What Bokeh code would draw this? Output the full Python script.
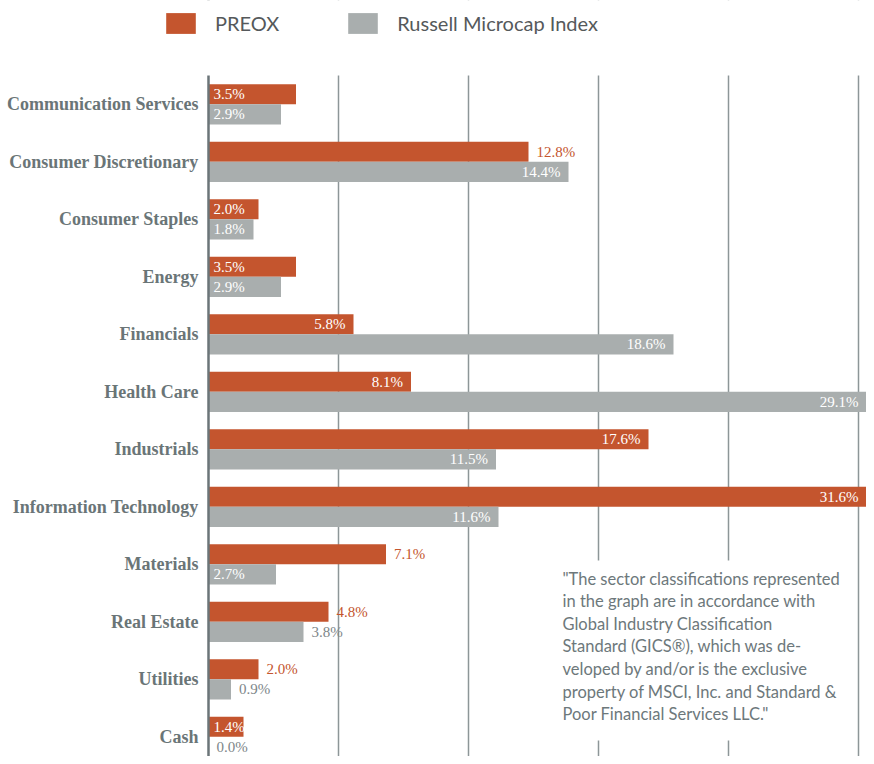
import numpy as np
from bokeh.plotting import figure
from bokeh.models import (Range1d, FixedTicker, Grid, Legend, LegendItem,
                          ColumnDataSource, BoxAnnotation, Label, Span)
from bokeh.core.properties import value
from bokeh.embed import file_html
from bokeh.resources import INLINE

# ---------------- data ----------------
categories = ["Communication Services", "Consumer Discretionary", "Consumer Staples",
              "Energy", "Financials", "Health Care", "Industrials",
              "Information Technology", "Materials", "Real Estate", "Utilities", "Cash"]
preox = [3.5, 12.8, 2.0, 3.5, 5.8, 8.1, 17.6, 31.6, 7.1, 4.8, 2.0, 1.4]
russell = [2.9, 14.4, 1.8, 2.9, 18.6, 29.1, 11.5, 11.6, 2.7, 3.8, 0.9, 0.0]
# whether the value label sits outside the bar end
preox_label_out = [False, True, False, False, False, False, False, False, True, True, True, False]
russell_label_out = [False, False, False, False, False, False, False, False, False, True, True, True]
series_names = ["PREOX", "Russell Microcap Index"]
note_lines = ['"The sector classifications represented',
              'in the graph are in accordance with',
              'Global Industry Classification',
              'Standard (GICS®), which was de-',
              'veloped by and/or is the exclusive',
              'property of MSCI, Inc. and Standard &',
              'Poor Financial Services LLC."']

# ---------------- style ----------------
ORANGE = "#c4552e"
GREY = "#a9aeae"
LABEL_GREY = "#6a7577"
OUT_GREY = "#7d8689"

W, H = 866, 756
LEFT, TOP = 208, 75          # pixel position of the value axis / first row top
PX_PER_PCT = 25.0
ROW_PX = 57.5
SHORT_BAR = 4.0              # inside labels of short bars start at the bar's base

n = len(categories)
ypos = np.arange(n, 0, -1).astype(float)
XMIN = -LEFT / PX_PER_PCT
XMAX = (W - LEFT) / PX_PER_PCT
YTOP = 12.5 + TOP / ROW_PX
YBOT = 12.5 - (H - TOP) / ROW_PX

p = figure(width=W, height=H, output_backend="svg", toolbar_location=None,
           x_range=Range1d(XMIN, XMAX), y_range=Range1d(YBOT, YTOP),
           x_axis_location=None, y_axis_location=None,
           min_border=0)
p.outline_line_color = None
p.grid.visible = False
p.add_layout(Grid(dimension=0, ticker=FixedTicker(ticks=[5.2, 10.4, 15.6, 20.8, 26.0]),
                  grid_line_color="#8d9698", grid_line_width=1.5))
p.add_layout(Span(location=0, dimension="height", line_color="#6b7578", line_width=2.5))

off = 0.175
hgt = 0.35
src_p = ColumnDataSource(dict(y=ypos + off, v=preox))
src_r = ColumnDataSource(dict(y=ypos - off, v=russell))
r1 = p.hbar(y="y", right="v", left=0, height=hgt, source=src_p, fill_color=ORANGE, line_color=None)
r2 = p.hbar(y="y", right="v", left=0, height=hgt, source=src_r, fill_color=GREY, line_color=None)

FONT = dict(text_font=value("Liberation Serif"), text_font_size="15px", text_baseline="middle")

def add_labels(vals, ys, outside, out_color):
    vals = np.array(vals)
    outside = np.array(outside)
    short = (~outside) & (vals < SHORT_BAR)
    longer = (~outside) & (vals >= SHORT_BAR)
    clipped = np.minimum(vals, XMAX)
    fmt = lambda arr: [f"{v:.1f}%" for v in arr]
    s_long = ColumnDataSource(dict(x=clipped[longer], y=ys[longer], t=fmt(vals[longer])))
    s_short = ColumnDataSource(dict(x=np.zeros(short.sum()), y=ys[short], t=fmt(vals[short])))
    s_out = ColumnDataSource(dict(x=clipped[outside], y=ys[outside], t=fmt(vals[outside])))
    p.text(x="x", y="y", text="t", source=s_long, text_align="right",
           x_offset=-8, text_color="white", **FONT)
    p.text(x="x", y="y", text="t", source=s_short, text_align="left",
           x_offset=5, text_color="white", **FONT)
    p.text(x="x", y="y", text="t", source=s_out, text_align="left",
           x_offset=8, text_color=out_color, **FONT)

add_labels(preox, ypos + off, preox_label_out, ORANGE)
add_labels(russell, ypos - off, russell_label_out, OUT_GREY)

# category labels (left of the value axis)
src_c = ColumnDataSource(dict(x=np.zeros(n), y=ypos, t=categories))
p.text(x="x", y="y", text="t", source=src_c, text_align="right", text_baseline="middle",
       x_offset=-10, text_color=LABEL_GREY, text_font=value("Liberation Serif"),
       text_font_style="bold", text_font_size="18px")

# white area above the first row (grid lines start below the legend)
p.add_layout(BoxAnnotation(bottom=12.5, fill_color="white", fill_alpha=1.0, line_color=None))

legend = Legend(items=[LegendItem(label=series_names[0], renderers=[r1]),
                       LegendItem(label=series_names[1], renderers=[r2])],
                orientation="horizontal", location=(162, H - 36),
                glyph_width=37, glyph_height=26, label_standoff=16, spacing=65,
                padding=0, margin=0, border_line_color=None, background_fill_alpha=0,
                label_text_font="Lato", label_text_font_size="20px",
                label_text_color="#55595b", label_height=26)
p.add_layout(legend, "center")

# note box
p.add_layout(BoxAnnotation(left=(553 - LEFT) / PX_PER_PCT, right=(851 - LEFT) / PX_PER_PCT,
                           top=12.5 - (560 - TOP) / ROW_PX, bottom=12.5 - (740 - TOP) / ROW_PX,
                           fill_color="white", fill_alpha=1.0, line_color=None))
for k, line in enumerate(note_lines):
    p.add_layout(Label(x=562, y=H - 578 - 22.6 * k, x_units="screen", y_units="screen",
                       text=line, text_font="Lato", text_font_size="16.5px",
                       text_color="#6d787b", text_baseline="middle"))

open("out.html", "w").write(file_html(p, INLINE))
